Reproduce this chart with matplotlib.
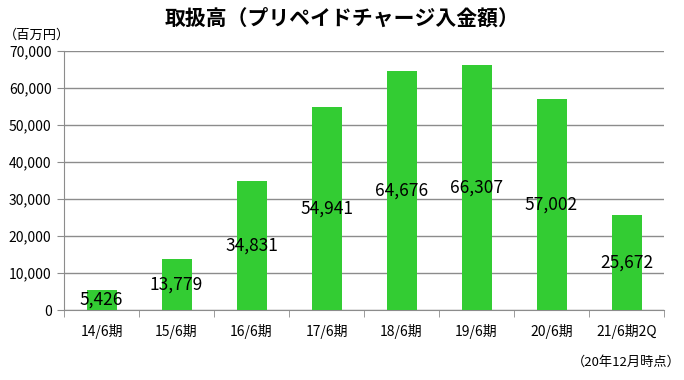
import matplotlib.pyplot as plt
import numpy as np

plt.rcParams['font.family'] = ['Noto Sans CJK JP', 'DejaVu Sans']

periods = ['14/6期', '15/6期', '16/6期', '17/6期', '18/6期', '19/6期', '20/6期', '21/6期2Q']
amounts = [5426, 13779, 34831, 54941, 64676, 66307, 57002, 25672]
yticks = np.arange(0, 70001, 10000)

fig = plt.figure(figsize=(6.84, 3.8), dpi=100)
ax = fig.add_axes([0.0936, 0.184, 0.8772, 0.682])

x = np.arange(len(periods))
ax.bar(x, amounts, width=0.4, color='#33CC33', zorder=3)

for xi, v in zip(x, amounts):
    ax.text(xi, v / 2, f'{v:,}', ha='center', va='center', fontsize=12.5, color='black', zorder=4)

ax.set_xlim(-0.5, len(periods) - 0.5)
ax.set_ylim(0, 70000)
ax.set_yticks(yticks)
ax.set_yticklabels([f'{t:,}' for t in yticks], fontsize=10)
ax.yaxis.grid(True, color='#8c8c8c', linewidth=1, zorder=0)

# category ticks sit between bars
ax.set_xticks(x)
ax.set_xticklabels(periods, fontsize=10)
ax.tick_params(axis='x', length=0, pad=10)
ax.set_xticks(np.arange(-0.5, len(periods)), minor=True)
ax.tick_params(axis='x', which='minor', length=5, color='#8c8c8c')
ax.tick_params(axis='y', length=5, color='#8c8c8c', pad=4)

for s in ['top', 'right']:
    ax.spines[s].set_visible(False)
for s in ['left', 'bottom']:
    ax.spines[s].set_color('#8c8c8c')

fig.text(0.5, 0.952, '取扱高（プリペイドチャージ入金額）', ha='center', va='center',
         fontsize=15, fontweight='bold')
fig.text(0.005, 0.908, '（百万円）', ha='left', va='center', fontsize=9.5)
fig.text(0.995, 0.047, '（20年12月時点）', ha='right', va='center', fontsize=9.5)

fig.savefig('out.png', dpi=100)
